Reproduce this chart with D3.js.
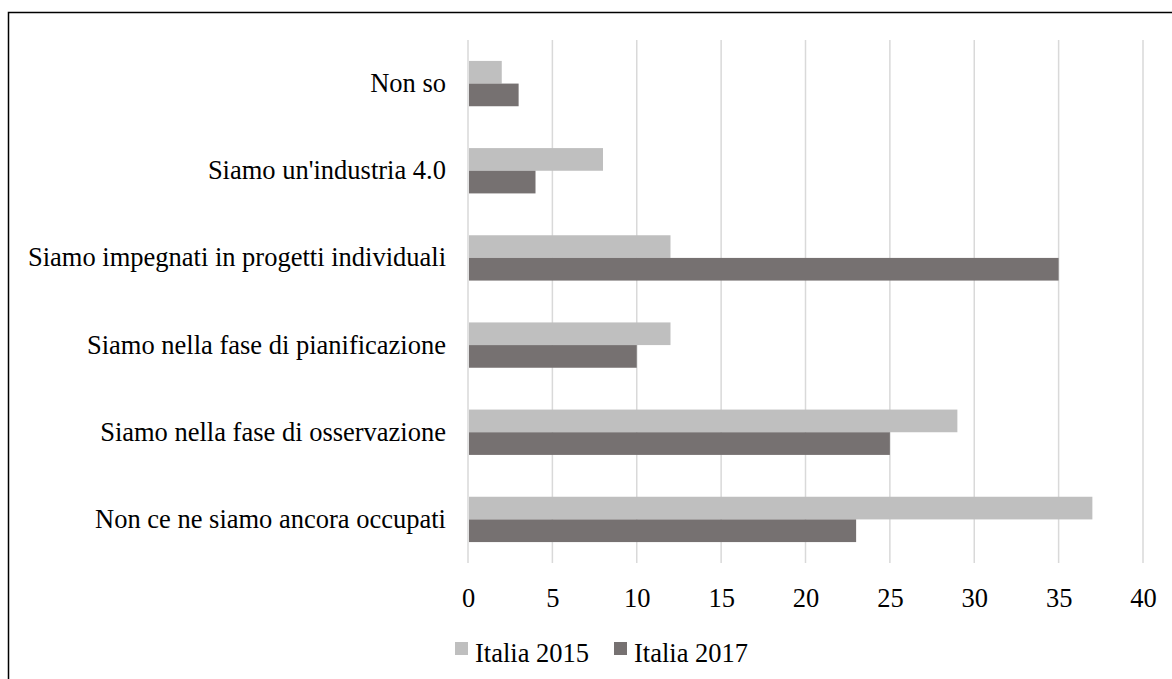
<!DOCTYPE html>
<html>
<head>
<meta charset="utf-8">
<script src="https://cdn.jsdelivr.net/npm/d3@7"></script>
<style>
  html, body { margin: 0; padding: 0; background: #fff; }
  svg { display: block; }
  text { font-family: "Liberation Serif", "Times New Roman", serif; fill: #000; }
</style>
</head>
<body>
<svg id="chart" width="1172" height="679"></svg>
<script>
// Stato di avanzamento verso l'Industria 4.0 (%)
const categories = [
  "Non so",
  "Siamo un'industria 4.0",
  "Siamo impegnati in progetti individuali",
  "Siamo nella fase di pianificazione",
  "Siamo nella fase di osservazione",
  "Non ce ne siamo ancora occupati"
];
const seriesNames = ["Italia 2015", "Italia 2017"];
const italia2015 = [2, 8, 12, 12, 29, 37];
const italia2017 = [3, 4, 35, 10, 25, 23];
const xTicks = [0, 5, 10, 15, 20, 25, 30, 35, 40];
const colors = ["#bfbfbf", "#767171"];

const FONT = "'Liberation Serif', 'Times New Roman', serif";
const FS = "26.5px";

const svg = d3.select("#chart");
const W = 1172, H = 679;

// Outer chart frame
svg.append("rect")
  .attr("x", 8.5).attr("y", 12.5)
  .attr("width", W + 20).attr("height", H + 20)
  .attr("fill", "none").attr("stroke", "#000").attr("stroke-width", 1.5);

const plot = { left: 468, right: 1143, top: 40, bottom: 563 };

const x = d3.scaleLinear().domain([0, 40]).range([plot.left, plot.right]);
const y = d3.scaleBand().domain(categories).range([plot.top, plot.bottom]).paddingInner(0.48).paddingOuter(0.24);
const sub = d3.scaleBand().domain(seriesNames).range([0, y.bandwidth()]);

// Vertical gridlines
svg.append("g").selectAll("line").data(xTicks).join("line")
  .attr("x1", d => x(d)).attr("x2", d => x(d))
  .attr("y1", plot.top).attr("y2", plot.bottom)
  .attr("stroke", "#d9d9d9").attr("stroke-width", 1.5);

// Bars
const rows = categories.map((c, i) => ({ cat: c, values: [italia2015[i], italia2017[i]] }));
const groups = svg.append("g").selectAll("g").data(rows).join("g")
  .attr("transform", d => `translate(0,${y(d.cat)})`);
groups.selectAll("rect")
  .data(d => d.values.map((v, k) => ({ name: seriesNames[k], v, k })))
  .join("rect")
  .attr("x", x(0) + 1)
  .attr("y", d => sub(d.name))
  .attr("width", d => x(d.v) - x(0) - 1)
  .attr("height", sub.bandwidth())
  .attr("fill", d => colors[d.k]);

// Category labels
const yAxis = d3.axisLeft(y).tickSize(0).tickPadding(22);
const gy = svg.append("g").attr("transform", `translate(${plot.left},0)`).call(yAxis);
gy.select(".domain").remove();
gy.selectAll("text")
  .style("font-family", FONT)
  .style("font-size", FS).attr("fill", "#000");

// Value axis labels
const xAxis = d3.axisBottom(x).tickValues(xTicks).tickSize(0).tickPadding(25);
const gx = svg.append("g").attr("transform", `translate(0,${plot.bottom})`).call(xAxis);
gx.select(".domain").remove();
gx.selectAll("text")
  .style("font-family", FONT)
  .style("font-size", FS).attr("fill", "#000");

// Legend
const legendX = [455, 614];
const legend = svg.append("g").selectAll("g").data(seriesNames).join("g")
  .attr("transform", (d, i) => `translate(${legendX[i]},642)`);
legend.append("rect").attr("width", 13).attr("height", 13).attr("fill", (d, i) => colors[i]);
legend.append("text").attr("x", 20).attr("y", 20)
  .style("font-family", FONT)
  .style("font-size", FS).text(d => d);
</script>
</body>
</html>
